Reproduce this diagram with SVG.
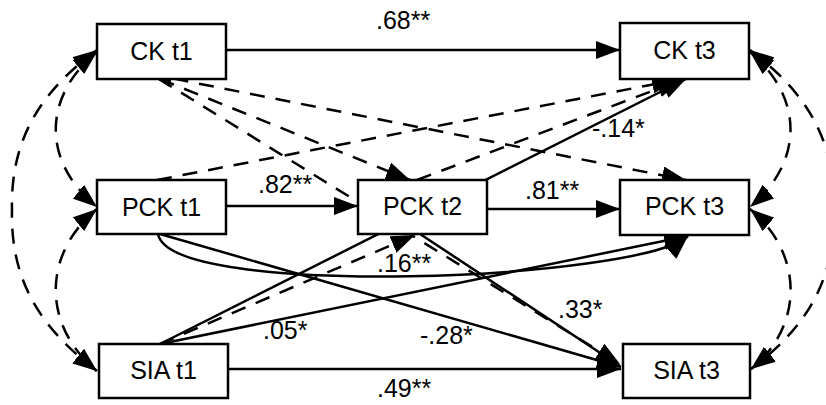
<svg xmlns="http://www.w3.org/2000/svg" width="826" height="405" viewBox="0 0 826 405">
<style>
.box{fill:#fff;stroke:#000;stroke-width:2.5}
.nt{font-family:"Liberation Sans",Arial,Helvetica,sans-serif;font-size:25px;fill:#000;text-anchor:middle}
.lbl{font-family:"Liberation Sans",Arial,Helvetica,sans-serif;font-size:25px;fill:#000}
.s{fill:none;stroke:#000;stroke-width:2.5;marker-end:url(#ah)}
.d{fill:none;stroke:#000;stroke-width:2.5;stroke-dasharray:15 11;marker-end:url(#ah)}
.two{marker-start:url(#ah)}
</style>
<defs>
<marker id="ah" markerUnits="userSpaceOnUse" viewBox="0 0 24 18" refX="24" refY="9" markerWidth="24" markerHeight="18" orient="auto-start-reverse">
<path d="M0,0 L24,9 L0,18 z" fill="#000"/>
</marker>
</defs>
<rect width="826" height="405" fill="#fff"/>
<g id="connectors">
<path class="s" d="M226,50 L620,50"/>
<path class="s" d="M226,206 L358,206"/>
<path class="s" d="M487,209 L620,209"/>
<path class="s" d="M228,369 L621,369"/>
<path class="s" d="M160,344 L686,79"/>
<path class="s" d="M160,344 L688,236"/>
<path class="s" d="M160,234 L621,367"/>
<path class="s" d="M420,234 L620,366"/>
<path class="s" d="M158,234 C170,300 640,280 688,236"/>
<path class="d" d="M157,180 L676,80"/>
<path class="d" d="M417,180 L681,80"/>
<path class="d two" d="M148,73.6 L686,180"/>
<path class="d" d="M160,79 L410,180"/>
<path class="d" d="M159,79 L620,364"/>
<path class="d" d="M160,344 L415,235"/>
<path class="d two" d="M97,50 C50,85 10,130 12,210 C10,290 50,335 97,371"/>
<path class="d two" d="M97,52 C42,97 42,162 97,207"/>
<path class="d two" d="M97,209 C42,254 42,326 97,371"/>
<path class="d two" d="M750,50 C796,85 836,130 834,210 C836,290 796,335 751,369"/>
<path class="d two" d="M750,52 C804,97 804,162 750,207"/>
<path class="d two" d="M750,209 C804,254 804,326 751,369"/>
<text class="lbl" x="376" y="29">.68**</text>
<text class="lbl" x="258" y="193">.82**</text>
<text class="lbl" x="525" y="199">.81**</text>
<text class="lbl" x="592" y="137">-.14*</text>
<text class="lbl" x="377" y="272">.16**</text>
<text class="lbl" x="263" y="339">.05*</text>
<text class="lbl" x="420" y="344">-.28*</text>
<text class="lbl" x="558" y="318">.33*</text>
<text class="lbl" x="377" y="397">.49**</text>
</g>
<g id="ck_t1"><rect class="box" x="97" y="24" width="129" height="55"/><text class="nt" x="161.5" y="60">CK t1</text></g>
<g id="ck_t3"><rect class="box" x="620" y="23" width="129" height="56"/><text class="nt" x="684.5" y="59">CK t3</text></g>
<g id="pck_t1"><rect class="box" x="97" y="180" width="129" height="54"/><text class="nt" x="161.5" y="216">PCK t1</text></g>
<g id="pck_t2"><rect class="box" x="358" y="180" width="129" height="54"/><text class="nt" x="422.5" y="215">PCK t2</text></g>
<g id="pck_t3"><rect class="box" x="620" y="180" width="129" height="55"/><text class="nt" x="684.5" y="215">PCK t3</text></g>
<g id="sia_t1"><rect class="box" x="99" y="344" width="129" height="54"/><text class="nt" x="163.5" y="379">SIA t1</text></g>
<g id="sia_t3"><rect class="box" x="623" y="344" width="127" height="54"/><text class="nt" x="686.5" y="379">SIA t3</text></g>
</svg>
